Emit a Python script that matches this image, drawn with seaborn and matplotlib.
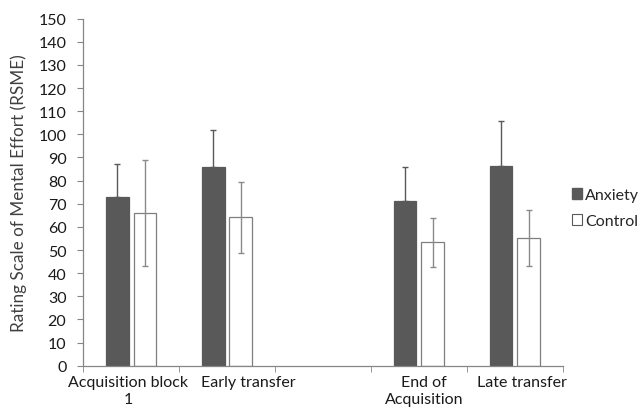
import seaborn as sns
import matplotlib.pyplot as plt
import matplotlib.transforms as mtransforms
import numpy as np
import pandas as pd

# data
phases = ["Acquisition block\n1", "Early transfer", " ", "End of\nAcquisition", "Late transfer"]
data_phases = ["Acquisition block\n1", "Early transfer", "End of\nAcquisition", "Late transfer"]
groups = ["Anxiety", "Control"]
anxiety_mean = [73.0, 86.0, 71.3, 86.3]
anxiety_sd = [14.1, 16.0, 14.6, 19.3]
control_mean = [65.8, 64.1, 53.4, 55.0]
control_sd = [22.9, 15.4, 10.6, 12.1]

df = pd.DataFrame({
    "phase": data_phases * 2,
    "group": ["Anxiety"] * 4 + ["Control"] * 4,
    "rsme": anxiety_mean + control_mean,
})

sns.set_style("white")
plt.rcParams["font.family"] = ["Lato", "DejaVu Sans"]

fig = plt.figure(figsize=(6.44, 4.10), dpi=100)
ax = fig.add_axes([0.129, 0.1056, 0.745, 0.8464])

sns.barplot(data=df, x="phase", y="rsme", hue="group", order=phases, hue_order=groups,
            palette={"Anxiety": "#595959", "Control": "#ffffff"},
            width=0.57, gap=0.18, errorbar=None, legend=False, ax=ax)

# style bars and add error bars at the bar centres
bar_conts = list(ax.containers)
for i, cont in enumerate(bar_conts):
    patches = [p for p in cont.patches if not np.isnan(p.get_height())]
    xs = [p.get_x() + p.get_width() / 2 for p in patches]
    hs = [p.get_height() for p in patches]
    for p in patches:
        if i == 0:
            p.set_edgecolor("#595959")
        else:
            p.set_edgecolor("#7f7f7f")
        p.set_linewidth(0.9)
    if i == 0:
        ax.errorbar(xs, hs, yerr=[np.zeros(len(xs)), anxiety_sd], fmt="none",
                    ecolor="#595959", elinewidth=1.0, capsize=2.5, capthick=1.0)
    else:
        ax.errorbar(xs, hs, yerr=control_sd, fmt="none",
                    ecolor="#8a8a8a", elinewidth=1.0, capsize=2.5, capthick=1.0)

ax.set_xlim(-0.5, 4.5)
ax.set_ylim(0, 150)
ax.set_yticks(np.arange(0, 151, 10))
ax.set_xlabel("")
ax.set_ylabel("Rating Scale of Mental Effort (RSME)", fontsize=12.3, color="#404040", labelpad=8)
ax.tick_params(axis="x", length=0, labelsize=11.5, labelcolor="#1a1a1a", pad=7)
ax.set_xticks(np.arange(-0.5, 4.6, 1.0), minor=True)
ax.tick_params(axis="x", which="minor", length=4, direction="out", color="#868686", bottom=True)
ax.tick_params(axis="y", length=4, direction="out", color="#868686", left=True,
               labelsize=11.5, labelcolor="#1a1a1a", pad=8)

# Excel-like nudges of the category labels (pixels)
shifts = [-3, 21, 0, 5, 7]
for lab, dx in zip(ax.get_xticklabels(), shifts):
    lab.set_transform(lab.get_transform() + mtransforms.ScaledTranslation(dx / 100, 0, fig.dpi_scale_trans))

sns.despine(ax=ax)
for s in ["left", "bottom"]:
    ax.spines[s].set_color("#868686")
    ax.spines[s].set_linewidth(0.9)

handles = [plt.Rectangle((0, 0), 1, 1, facecolor="#595959", edgecolor="#595959"),
           plt.Rectangle((0, 0), 1, 1, facecolor="#ffffff", edgecolor="#595959", linewidth=0.8)]
fig.legend(handles, groups, loc="center left", bbox_to_anchor=(0.866, 0.49),
           frameon=False, handlelength=0.6, handleheight=0.6, handletextpad=0.2,
           labelspacing=0.75, fontsize=11.5)

fig.savefig("out.png", dpi=100)
